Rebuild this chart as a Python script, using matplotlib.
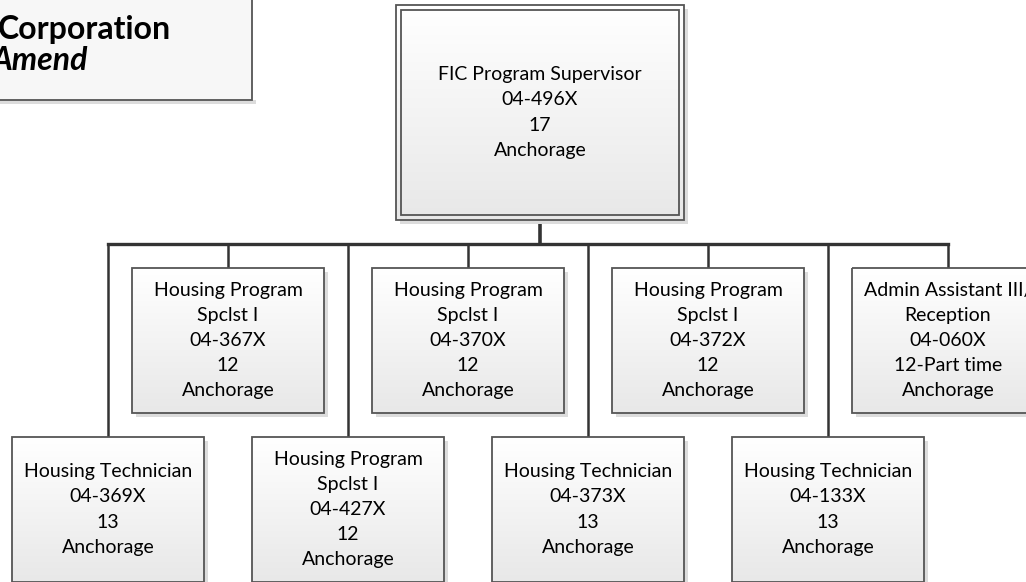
import numpy as np
from matplotlib import pyplot as plt
from matplotlib.patches import Rectangle

# Org chart content
top_title = ['FIC Program Supervisor', '04-496X', '17', 'Anchorage']

upper_titles = [
    ['Housing Program', 'Spclst I', '04-367X', '12', 'Anchorage'],
    ['Housing Program', 'Spclst I', '04-370X', '12', 'Anchorage'],
    ['Housing Program', 'Spclst I', '04-372X', '12', 'Anchorage'],
    ['Admin Assistant III/', 'Reception', '04-060X', '12-Part time', 'Anchorage'],
]

lower_titles = [
    ['Housing Technician', '04-369X', '13', 'Anchorage'],
    ['Housing Program', 'Spclst I', '04-427X', '12', 'Anchorage'],
    ['Housing Technician', '04-373X', '13', 'Anchorage'],
    ['Housing Technician', '04-133X', '13', 'Anchorage'],
]

corner_lines = ['Finance', 'Corporation', 'Amend']

W, H = 1026, 582
fig = plt.figure(figsize=(W / 100, H / 100), dpi=100)
ax = fig.add_axes([0, 0, 1, 1])
ax.set_xlim(0, W)
ax.set_ylim(H, 0)
ax.axis('off')

font = 'Lato'
fs = 14
line_h = 25.2
edge = '#555555'

# vertical gradient used for box fills
grad = np.linspace(0, 1, 64).reshape(-1, 1)
cmap = plt.matplotlib.colors.LinearSegmentedColormap.from_list('g', ['#ffffff', '#e8e8e8'])


def box(x0, y0, x1, y1, lines, double=False):
    # shadow
    ax.add_patch(Rectangle((x0 + 4, y0 + 4), x1 - x0, y1 - y0, facecolor='#dcdcdc',
                           edgecolor='none', zorder=2))
    ax.imshow(grad, cmap=cmap, extent=(x0, x1, y1, y0), aspect='auto', zorder=3,
              interpolation='bilinear')
    ax.add_patch(Rectangle((x0, y0), x1 - x0, y1 - y0, facecolor='none',
                           edgecolor=edge, linewidth=1.3, zorder=4))
    if double:
        ax.add_patch(Rectangle((x0 + 5, y0 + 5), x1 - x0 - 10, y1 - y0 - 10,
                               facecolor='none', edgecolor=edge, linewidth=1.3, zorder=4))
    cx = (x0 + x1) / 2
    cy = (y0 + y1) / 2
    n = len(lines)
    for i, t in enumerate(lines):
        y = cy + (i - (n - 1) / 2) * line_h
        ax.text(cx, y, t, ha='center', va='center', fontsize=fs, family=font,
                color='black', zorder=5, clip_on=True)


# corner box (cut off at left / top)
ax.add_patch(Rectangle((-20, -20), 272, 120, facecolor='#f7f7f7', edgecolor=edge,
                       linewidth=1.3, zorder=2))
ax.add_patch(Rectangle((-16, 100), 272, 4, facecolor='#dcdcdc', edgecolor='none', zorder=1))
ax.text(-2, -15, corner_lines[0], ha='left', va='center', fontsize=23, family=font,
        weight='bold', zorder=5)
ax.text(-2, 30, corner_lines[1], ha='left', va='center', fontsize=23, family=font,
        weight='bold', zorder=5)
ax.text(-9, 60, corner_lines[2], ha='left', va='center', fontsize=23, family=font,
        weight='bold', style='italic', zorder=5)

# top box
box(396, 5, 684, 220, top_title, double=True)

# connectors
bar_y = 244
upper_x = [228, 468, 708, 948]
lower_x = [108, 348, 588, 828]
ax.plot([540, 540], [220, bar_y], color='#333333', lw=2.6, zorder=1)
ax.plot([min(lower_x), max(upper_x)], [bar_y, bar_y], color='#333333', lw=2.4,
        zorder=1, solid_capstyle='projecting')
for x in upper_x:
    ax.plot([x, x], [bar_y, 268], color='#333333', lw=1.8, zorder=1)
for x in lower_x:
    ax.plot([x, x], [bar_y, 437], color='#333333', lw=1.8, zorder=1)

bw = 192
for x, t in zip(upper_x, upper_titles):
    box(x - bw / 2, 268, x + bw / 2, 413, t)
for x, t in zip(lower_x, lower_titles):
    box(x - bw / 2, 437, x + bw / 2, 582, t)

ax.set_xlim(0, W)
ax.set_ylim(H, 0)
fig.savefig('out.png', dpi=100)
